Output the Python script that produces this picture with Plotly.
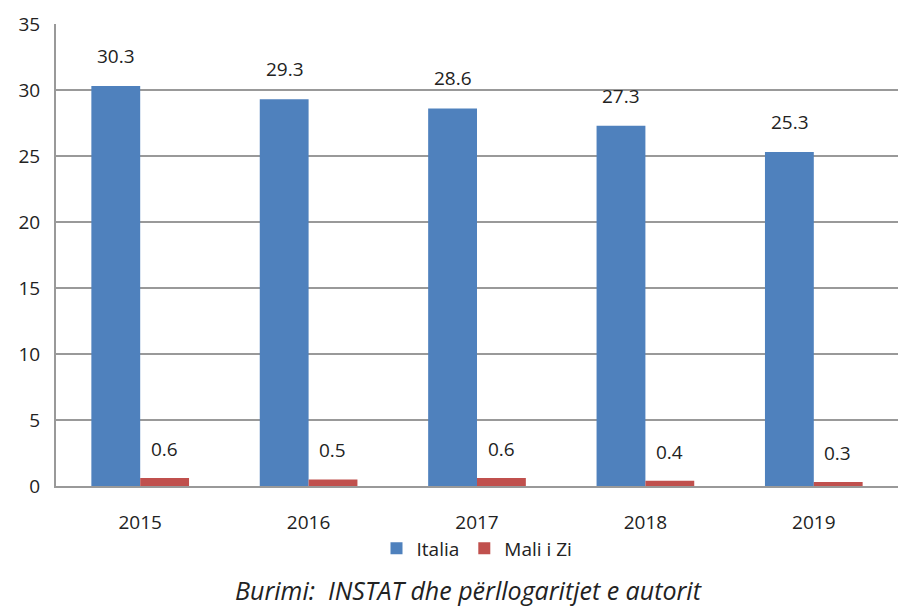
import plotly.graph_objects as go

years = ["2015", "2016", "2017", "2018", "2019"]
italia = [30.3, 29.3, 28.6, 27.3, 25.3]
mali = [0.6, 0.5, 0.6, 0.4, 0.3]
y_ticks = [0, 5, 10, 15, 20, 25, 30, 35]

FONT = "Open Sans"
fig = go.Figure()
fig.add_trace(go.Bar(x=years, y=italia, name="Italia", marker_color="#4F81BD",
                     marker_line_width=0))
fig.add_trace(go.Bar(x=years, y=mali, name="Mali i Zi", marker_color="#C0504D",
                     marker_line_width=0))

for i, v in enumerate(italia):
    fig.add_annotation(x=i, y=v, text=f"{v}", showarrow=False, xshift=-24,
                       yshift=30, font=dict(family=FONT, size=19, color="#222"))
for i, v in enumerate(mali):
    fig.add_annotation(x=i, y=v, text=f"{v}", showarrow=False, xshift=24,
                       yshift=29, font=dict(family=FONT, size=19, color="#222"))

fig.add_annotation(text="<i>Burimi:  INSTAT dhe përllogaritjet e autorit</i>",
                   xref="paper", yref="paper", x=0.49, y=-0.225, xanchor="center",
                   yanchor="middle", showarrow=False,
                   font=dict(family=FONT, size=25, color="#222"))

fig.update_layout(
    width=899, height=609,
    margin=dict(l=56, r=1, t=24, b=123),
    plot_bgcolor="white", paper_bgcolor="white",
    barmode="group", bargap=0.42, bargroupgap=0,
    font=dict(family=FONT, color="#222"),
    showlegend=True,
    legend=dict(orientation="h", x=0.5, xanchor="center", y=-0.135, yanchor="middle",
                bgcolor="rgba(0,0,0,0)",
                font=dict(family=FONT, size=19, color="#222"), itemwidth=30,
                tracegroupgap=0),
    xaxis=dict(type="category", range=[-0.5, 4.5], showline=True, linecolor="#999",
               linewidth=2, ticks="",
               tickfont=dict(family=FONT, size=19, color="#222"), ticklabelstandoff=18),
    yaxis=dict(range=[0, 35], tickvals=y_ticks, showgrid=True, gridcolor="#999",
               gridwidth=2, showline=True, linecolor="#999", linewidth=2, ticks="",
               zeroline=False, tickfont=dict(family=FONT, size=19, color="#222"),
               ticklabelstandoff=10),
)

fig.write_html("out.html")
